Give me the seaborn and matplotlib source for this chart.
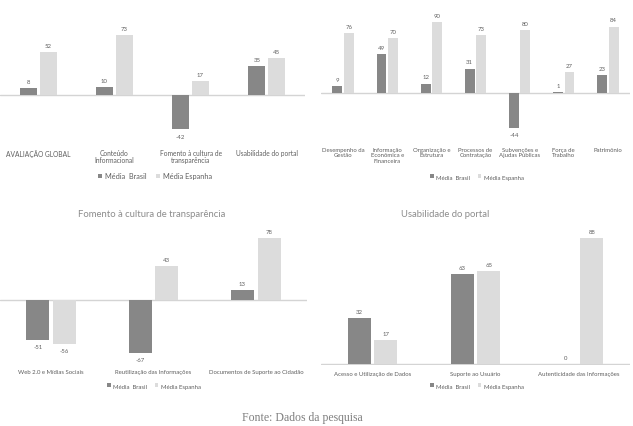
import numpy as np
import pandas as pd
import seaborn as sns
import matplotlib.pyplot as plt

# dados
series = ['Média  Brasil', 'Média Espanha']

cat_geral = ['AVALIAÇÃO GLOBAL', 'Conteúdo\nInformacional',
             'Fomento à cultura de\ntransparência', 'Usabilidade do portal']
br_geral = [8, 10, -42, 35]
es_geral = [52, 73, 17, 45]

cat_conteudo = ['Desempenho da\nGestão', 'Informação\nEconômica e\nFinanceira',
                'Organização e\nEstrutura', 'Processos de\nContratação',
                'Subvenções e\nAjudas Públicas', 'Força de\nTrabalho', 'Patrimônio']
br_conteudo = [9, 49, 12, 31, -44, 1, 23]
es_conteudo = [76, 70, 90, 73, 80, 27, 84]

cat_fomento = ['Web 2.0 e Mídias Sociais', 'Reutilização das Informações',
               'Documentos de Suporte ao Cidadão']
br_fomento = [-51, -67, 13]
es_fomento = [-56, 43, 78]

cat_usab = ['Acesso e Utilização de Dados', 'Suporte ao Usuário',
            'Autenticidade das Informações']
br_usab = [32, 63, 0]
es_usab = [17, 65, 88]

W, H = 633, 427
dark = '#878787'
light = '#dcdcdc'
txt = '#5f5f5f'

sns.set_style('white')
plt.rcParams['font.family'] = ['Lato', 'DejaVu Sans']

fig = plt.figure(figsize=(W / 100, H / 100), dpi=100)


def ax_at(left, top, right, bottom):
    return fig.add_axes([left / W, 1 - bottom / H, (right - left) / W, (bottom - top) / H])


def painel(ax, cats, br, es, ylim, leg_xy, pad=2, fs=4.3, leg_fs=4.3):
    df = pd.DataFrame({
        'cat': cats * 2,
        'val': br + es,
        'serie': [series[0]] * len(cats) + [series[1]] * len(cats),
    })
    sns.barplot(data=df, x='cat', y='val', hue='serie', order=cats,
                palette=[dark, light], saturation=1, width=0.52, gap=0.14,
                ax=ax, errorbar=None, linewidth=0)
    for c in ax.containers:
        ax.bar_label(c, fmt='%.0f', padding=3, fontsize=4.3, color=txt)
    ax.axhline(0, color='#d4d4d4', lw=1.0, zorder=0.5)
    ax.set_ylim(*ylim)
    ax.set_xlim(-0.5, len(cats) - 0.5)
    ax.set_xlabel('')
    ax.set_ylabel('')
    ax.set_yticks([])
    ax.tick_params(axis='x', length=0, pad=pad, labelsize=fs, labelcolor=txt)
    for t in ax.get_xticklabels():
        t.set_linespacing(1.1)
    sns.despine(ax=ax, left=True, bottom=True)
    ax.patch.set_alpha(0)
    h, l = ax.get_legend_handles_labels()
    ax.legend(h, l, loc='center', bbox_to_anchor=(leg_xy[0] / W, 1 - leg_xy[1] / H),
              bbox_transform=fig.transFigure, ncol=2, frameon=False,
              fontsize=leg_fs, labelcolor=txt, handlelength=0.6, handleheight=0.6,
              handletextpad=0.4, columnspacing=1.2)


# painel 1 - avaliação geral
ax1 = ax_at(0, 15, 305, 147)
painel(ax1, cat_geral, br_geral, es_geral, (-51 / 0.82, 81 / 0.82), (155, 177),
       fs=4.8, leg_fs=5.3)

# painel 2 - conteúdo informacional
ax2 = ax_at(321, 15, 630, 145)
painel(ax2, cat_conteudo, br_conteudo, es_conteudo, (-51 / 0.79, 79 / 0.79), (477, 178))

# painel 3 - fomento
ax3 = ax_at(0, 225, 307, 367)
painel(ax3, cat_fomento, br_fomento, es_fomento, (-66 / 0.79, 76 / 0.79), (154, 387))
fig.text(152 / W, 1 - 215 / H, 'Fomento à cultura de transparência', ha='center',
         va='center', fontsize=6.8, color='#8c8c8c')

# painel 4 - usabilidade
ax4 = ax_at(321, 225, 630, 366)
painel(ax4, cat_usab, br_usab, es_usab, (-1 / 1.43, 140 / 1.43), (477, 387), pad=4)
fig.text(445 / W, 1 - 215 / H, 'Usabilidade do portal', ha='center',
         va='center', fontsize=6.8, color='#8c8c8c')

fig.text(302 / W, 1 - 418 / H, 'Fonte: Dados da pesquisa', ha='center', va='center',
         fontsize=8.5, color='#7f7f7f', family='Liberation Serif')

fig.savefig('out.png', dpi=100)
